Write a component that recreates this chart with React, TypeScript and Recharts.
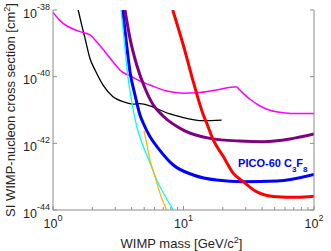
import { LineChart, Line, XAxis, YAxis, ReferenceDot } from 'recharts'

const FONT = '"Liberation Sans", Arial, Helvetica, sans-serif'
const AXIS_GRAY = '#8c8c8c'
const TEXT = '#262626'

// x: WIMP mass [GeV/c^2], y: cross section [cm^2]
const magentaMass = [1, 1.13, 1.61, 1.92, 2.16, 2.5, 2.88, 3.36, 3.89, 4.64, 5.54, 7.43, 9.96, 12.6, 17.9, 24.1, 25.5, 27.1, 32.3, 38.6, 46, 58.2, 73.7, 100]
const magentaSigma = [8.5e-39, 4.8e-39, 2.24e-39, 1.78e-39, 1.12e-39, 5.6e-40, 2.8e-40, 1.41e-40, 1.07e-40, 7.4e-41, 5.6e-41, 3.7e-41, 3.2e-41, 3.3e-41, 4.0e-41, 4.9e-41, 4.9e-41, 3.9e-41, 2.1e-41, 1.32e-41, 9.8e-42, 8.3e-42, 7.8e-42, 7.8e-42]

const blackMass = [1.56, 1.66, 1.76, 1.92, 2.1, 2.42, 2.88, 3.44, 4.1, 4.64, 5.54, 6.6, 7.88, 9.4, 14.1, 19.6]
const blackSigma = [1e-38, 3.5e-39, 1.41e-39, 3.5e-40, 1.58e-40, 5.6e-41, 2.5e-41, 1.78e-41, 1.51e-41, 1.55e-41, 1.32e-41, 1.0e-41, 7.6e-42, 6.3e-42, 4.8e-42, 5.0e-42]

const cyanMass = [3.32, 3.5, 3.71, 4.01, 4.38, 4.92, 5.54, 6.23, 6.81, 8.35]
const cyanSigma = [1e-38, 1.41e-39, 1.41e-40, 1.78e-41, 3.2e-42, 7.9e-43, 2.6e-43, 7.9e-44, 4.0e-44, 1e-44]

const orangeMass = [4.98, 5.22, 5.54, 6.05, 6.6, 7.43]
const orangeSigma = [2.4e-42, 1e-42, 3.2e-43, 1e-43, 3.2e-44, 1e-44]

const blueMass = [3.42, 3.62, 3.89, 4.25, 4.64, 4.92, 5.54, 6.41, 8.35, 11.9, 17.9, 28.6, 51.8, 100]
const blueSigma = [1e-38, 1.41e-39, 1.41e-40, 2.8e-41, 7.1e-42, 4.0e-42, 1.58e-42, 7.1e-43, 2.24e-43, 1.12e-43, 7.9e-44, 7.1e-44, 7.4e-44, 1.17e-43]

const purpleMass = [3.56, 3.89, 4.38, 5.07, 5.87, 6.97, 9.96, 15.96, 27.1, 40.6, 65.5, 100]
const purpleSigma = [1e-38, 1.41e-39, 2.24e-40, 4.5e-41, 1.41e-41, 6.6e-42, 2.5e-42, 1.41e-42, 1.17e-42, 1.12e-42, 1.35e-42, 1.9e-42]

const redMass = [8.27, 9.96, 11.88, 14.19, 15.06, 16.9, 20.2, 24.1, 28.7, 36.4, 51.8, 73.7, 100]
const redSigma = [1e-38, 8.9e-40, 7.1e-41, 7.1e-42, 4.0e-42, 1.26e-42, 4.0e-43, 1.26e-43, 7.1e-44, 3.5e-44, 2.5e-44, 2.4e-44, 2.6e-44]

const xTicks = [1, 2, 3, 4, 5, 6, 7, 8, 9, 10, 20, 30, 40, 50, 60, 70, 80, 90, 100]
const yTicks = [1e-44, 1e-42, 1e-40, 1e-38]

const zip = (m: number[], s: number[]) => m.map((v, i) => ({ m: v, s: s[i] }))

const series = [
  { key: 'black', data: zip(blackMass, blackSigma), color: '#000000', width: 1.3 },
  { key: 'magenta', data: zip(magentaMass, magentaSigma), color: '#ff00ff', width: 1.5 },
  { key: 'blue', data: zip(blueMass, blueSigma), color: '#0000ff', width: 3 },
  { key: 'cyan', data: zip(cyanMass, cyanSigma), color: '#00ffff', width: 1.3 },
  { key: 'orange', data: zip(orangeMass, orangeSigma), color: '#ffb400', width: 1.3 },
  { key: 'purple', data: zip(purpleMass, purpleSigma), color: '#800080', width: 3 },
  { key: 'red', data: zip(redMass, redSigma), color: '#ff0000', width: 3 },
]

const isDecade = (v: number) => Math.abs(Math.log10(v) - Math.round(Math.log10(v))) < 1e-9

function BottomTick({ x, y, payload }: any) {
  const v = payload.value
  const major = isDecade(v)
  return (
    <g>
      <line x1={x} x2={x} y1={y} y2={y - (major ? 4 : 3)} stroke={AXIS_GRAY} />
      {major && (
        <text x={x} y={y + 18} textAnchor="middle" fontSize={12.5} fill={TEXT} fontFamily={FONT}>
          10<tspan dy={-7} fontSize={9}>{Math.round(Math.log10(v))}</tspan>
        </text>
      )}
    </g>
  )
}

function TopTick({ x, y, payload }: any) {
  const major = isDecade(payload.value)
  return <line x1={x} x2={x} y1={y} y2={y + (major ? 4 : 3)} stroke={AXIS_GRAY} />
}

function LeftTick({ x, y, payload }: any) {
  const exp = Math.round(Math.log10(payload.value))
  return (
    <g>
      <line x1={x} x2={x + 4} y1={y} y2={y} stroke={AXIS_GRAY} />
      <text x={x - 3} y={y + 7.5} textAnchor="end" fontSize={12.5} fill={TEXT} fontFamily={FONT}>
        10<tspan dy={-8} fontSize={9}>{exp}</tspan>
      </text>
    </g>
  )
}

function RightTick({ x, y }: any) {
  return <line x1={x} x2={x - 4} y1={y} y2={y} stroke={AXIS_GRAY} />
}

function XLabel({ viewBox }: any) {
  const cx = viewBox.x + viewBox.width / 2 - 2
  return (
    <text x={cx} y={viewBox.y + 38} textAnchor="middle" fontSize={13} fill={TEXT} fontFamily={FONT}>
      WIMP mass [GeV/c<tspan dy={-5} fontSize={9}>2</tspan><tspan dy={5}>]</tspan>
    </text>
  )
}

function YLabel({ viewBox }: any) {
  const cy = viewBox.y + viewBox.height / 2
  return (
    <text transform={`translate(15,${cy}) rotate(-90)`} textAnchor="middle" fontSize={13} fill={TEXT} fontFamily={FONT}>
      SI WIMP-nucleon cross section [cm<tspan dy={-5} fontSize={9}>2</tspan><tspan dy={5}>]</tspan>
    </text>
  )
}

function PicoLabel({ cx, cy }: any) {
  return (
    <text x={cx} y={cy} fontSize={11} fontWeight="bold" fill="#0000ff" fontFamily={FONT}>
      PICO-60 C<tspan dy={5} fontSize={8}>3</tspan>
      <tspan dy={-5}>F</tspan>
      <tspan dy={5} fontSize={8}>8</tspan>
    </text>
  )
}

export default function App() {
  return (
    <div style={{ position: 'absolute', left: 0, top: 0 }}>
      <LineChart width={331} height={251} margin={{ top: 10, right: 0, bottom: 0, left: 0 }}>
        <XAxis
          dataKey="m"
          type="number"
          scale="log"
          domain={[1, 100]}
          allowDataOverflow
          ticks={xTicks}
          interval={0}
          height={41}
          tickSize={0}
          tickMargin={0}
          axisLine={{ stroke: AXIS_GRAY }}
          tickLine={false}
          tick={<BottomTick />}
          label={<XLabel />}
        />
        <XAxis
          xAxisId="top"
          orientation="top"
          type="number"
          scale="log"
          domain={[1, 100]}
          allowDataOverflow
          ticks={xTicks}
          interval={0}
          height={0}
          tickSize={0}
          tickMargin={0}
          axisLine={{ stroke: AXIS_GRAY }}
          tickLine={false}
          tick={<TopTick />}
        />
        <YAxis
          type="number"
          scale="log"
          domain={[1e-44, 1e-38]}
          allowDataOverflow
          ticks={yTicks}
          interval={0}
          width={53}
          tickSize={0}
          tickMargin={0}
          axisLine={{ stroke: AXIS_GRAY }}
          tickLine={false}
          tick={<LeftTick />}
          label={<YLabel />}
        />
        <YAxis
          yAxisId="right"
          orientation="right"
          type="number"
          scale="log"
          domain={[1e-44, 1e-38]}
          allowDataOverflow
          ticks={yTicks}
          interval={0}
          width={17}
          tickSize={0}
          tickMargin={0}
          axisLine={{ stroke: AXIS_GRAY }}
          tickLine={false}
          tick={<RightTick />}
        />
        {series.map(s => (
          <Line
            key={s.key}
            data={s.data}
            dataKey="s"
            type="monotone"
            stroke={s.color}
            strokeWidth={s.width}
            dot={false}
            activeDot={false}
            isAnimationActive={false}
          />
        ))}
        <ReferenceDot x={26.2} y={1.95e-43} r={0} shape={<PicoLabel />} />
      </LineChart>
    </div>
  )
}
